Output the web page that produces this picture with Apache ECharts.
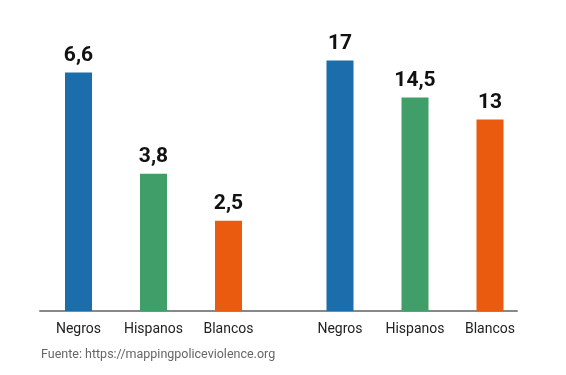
<!DOCTYPE html>
<html><head><meta charset="utf-8">
<script src="https://cdn.jsdelivr.net/npm/echarts@6/dist/echarts.min.js"></script>
<style>html,body{margin:0;padding:0;background:#fff}#c{width:566px;height:375px}</style>
</head><body><div id="c"></div>
<script>
const categories = ['Negros', 'Hispanos', 'Blancos'];
const leftValues = [6.6, 3.8, 2.5];
const rightValues = [17, 14.5, 13];
const colors = ['#1b6eab', '#409e68', '#eb5b0f'];
const sourceText = 'Fuente: https://mappingpoliceviolence.org';

const chart = echarts.init(document.getElementById('c'));
const fmt = p => String(p.value).replace('.', ',');
const mkData = vals => vals.map((v, i) => ({ value: v, itemStyle: { color: colors[i] } }));
const catAxis = gi => ({
  type: 'category', gridIndex: gi, data: categories,
  axisLine: { show: false }, axisTick: { show: false },
  axisLabel: { interval: 0, hideOverlap: false, color: '#222', fontSize: 14, fontFamily: 'Roboto', margin: 11 }
});
const valAxis = (gi, max) => ({ type: 'value', gridIndex: gi, min: 0, max: max, show: false });
const label = { show: true, position: 'top', distance: 6, formatter: fmt,
  color: '#111', fontSize: 21, fontWeight: 'bold', fontFamily: 'Roboto' };

chart.setOption({
  animation: false,
  grid: [
    { left: 41, width: 225, top: 40, bottom: 64 },
    { left: 302.5, width: 225, top: 40, bottom: 64 },
    { left: 40, right: 49, top: 40, bottom: 64 }
  ],
  xAxis: [
    catAxis(0), catAxis(1),
    { type: 'value', gridIndex: 2, min: 0, max: 1, axisLine: { show: true, lineStyle: { color: '#888', width: 2 } },
      axisTick: { show: false }, axisLabel: { show: false }, splitLine: { show: false } }
  ],
  yAxis: [valAxis(0, 7.5), valAxis(1, 18.4), valAxis(2, 1)],
  graphic: [{ type: 'text', left: 41, top: 348,
    style: { text: sourceText, fill: '#666', fontSize: 12.5, fontFamily: 'Roboto' } }],
  series: [
    { type: 'bar', xAxisIndex: 0, yAxisIndex: 0, barWidth: 27, data: mkData(leftValues), label: label },
    { type: 'bar', xAxisIndex: 1, yAxisIndex: 1, barWidth: 27, data: mkData(rightValues), label: label }
  ]
});
</script></body></html>
